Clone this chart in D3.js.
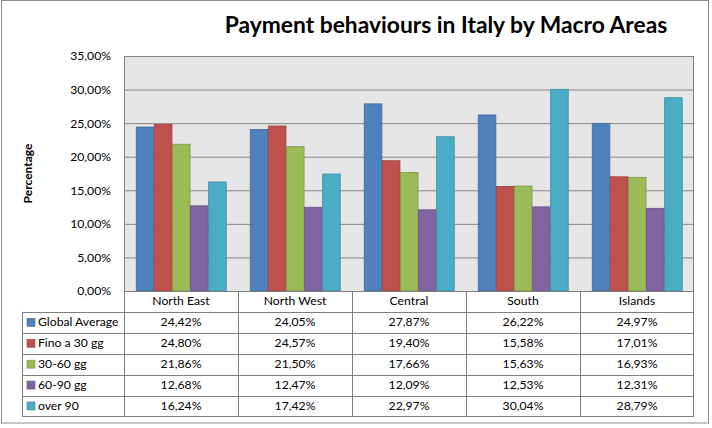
<!DOCTYPE html>
<html lang="it">
<head>
<meta charset="UTF-8">
<title>Payment behaviours in Italy by Macro Areas</title>
<style>
    body { margin: 0; background: #fff; }
    svg { display: block; font-family: Lato, "Open Sans", sans-serif; }
</style>
</head>
<body>
<div id="chart"></div>
<script src="https://d3js.org/d3.v7.min.js"></script>
<script>
    const areas = ["North East", "North West", "Central", "South", "Islands"];
    const seriesNames = ["Global Average", "Fino a 30 gg", "30-60 gg", "60-90 gg", "over 90"];
    const globalAverage = [24.42, 24.05, 27.87, 26.22, 24.97];
    const fino30 = [24.80, 24.57, 19.40, 15.58, 17.01];
    const gg3060 = [21.86, 21.50, 17.66, 15.63, 16.93];
    const gg6090 = [12.68, 12.47, 12.09, 12.53, 12.31];
    const over90 = [16.24, 17.42, 22.97, 30.04, 28.79];
    const yTicks = [0, 5, 10, 15, 20, 25, 30, 35];
    const colors = ["#4F81BD", "#C0504D", "#9BBB59", "#8064A2", "#4BACC6"];

    const values = [globalAverage, fino30, gg3060, gg6090, over90];

    const width = 712, height = 428;
    const plot = { left: 124, right: 694, top: 56, bottom: 291 };
    const rowH = 20.9;
    const legendLeft = 22;
    const fontSize = 12.2;

    const fmt = v => v.toFixed(2).replace(".", ",") + "%";

    const svg = d3.select("#chart").append("svg")
        .attr("width", width)
        .attr("height", height);

    // outer frame
    svg.append("rect")
        .attr("x", 1.5).attr("y", 0.5)
        .attr("width", 707).attr("height", 422.5)
        .attr("fill", "#fff")
        .attr("stroke", "#8c8c8c");

    svg.append("text")
        .attr("x", 446).attr("y", 33)
        .attr("text-anchor", "middle")
        .attr("font-size", 22.8)
        .attr("font-weight", "bold")
        .attr("fill", "#000")
        .text("Payment behaviours in Italy by Macro Areas");

    const x0 = d3.scaleBand()
        .domain(areas)
        .range([plot.left, plot.right]);

    const x1 = d3.scaleBand()
        .domain(seriesNames)
        .range([0, x0.bandwidth()])
        .paddingOuter(0.65)
        .paddingInner(0);

    const y = d3.scaleLinear()
        .domain([0, 35])
        .range([plot.bottom, plot.top]);

    // plot background
    svg.append("rect")
        .attr("x", plot.left).attr("y", plot.top)
        .attr("width", plot.right - plot.left)
        .attr("height", plot.bottom - plot.top)
        .attr("fill", "#e6e6e6");

    // gridlines
    svg.append("g")
        .attr("transform", `translate(${plot.left},0)`)
        .call(d3.axisLeft(y).tickValues(yTicks)
            .tickSize(-(plot.right - plot.left)).tickFormat(""))
        .call(g => g.select(".domain").remove())
        .call(g => g.selectAll(".tick line").attr("stroke", "#868686"));

    // y tick labels
    svg.append("g")
        .attr("transform", `translate(${plot.left},0)`)
        .call(d3.axisLeft(y).tickValues(yTicks).tickSize(0).tickPadding(13)
            .tickFormat(d => fmt(d)))
        .call(g => g.select(".domain").remove())
        .call(g => g.selectAll("text")
            .attr("font-family", "Lato, 'Open Sans', sans-serif")
            .attr("font-size", fontSize)
            .attr("fill", "#000"));

    svg.append("text")
        .attr("transform", `translate(28,${(plot.top + plot.bottom) / 2}) rotate(-90)`)
        .attr("text-anchor", "middle")
        .attr("dy", "0.35em")
        .attr("font-size", 12)
        .attr("font-weight", "bold")
        .text("Percentage");

    // bars
    const groups = svg.append("g").selectAll("g")
        .data(areas)
        .join("g")
        .attr("transform", d => `translate(${x0(d)},0)`);

    groups.selectAll("rect")
        .data((d, i) => seriesNames.map((s, j) => ({ s, j, v: values[j][i] })))
        .join("rect")
        .attr("x", d => x1(d.s) + 0.5)
        .attr("y", d => y(d.v))
        .attr("width", x1.bandwidth() - 0.5)
        .attr("height", d => y(0) - y(d.v))
        .attr("fill", d => colors[d.j])
        .attr("stroke", d => d3.color(colors[d.j]).darker(0.6))
        .attr("stroke-width", 0.8);

    // plot border
    svg.append("rect")
        .attr("x", plot.left + 0.5).attr("y", plot.top + 0.5)
        .attr("width", plot.right - plot.left - 1)
        .attr("height", plot.bottom - plot.top)
        .attr("fill", "none")
        .attr("stroke", "#868686");

    // data table
    const table = svg.append("g")
        .attr("stroke", "#7f7f7f")
        .attr("fill", "none");
    const tableBottom = plot.bottom + rowH * (seriesNames.length + 1);

    // vertical lines of the category columns
    areas.forEach(a => {
        table.append("line")
            .attr("x1", x0(a) + 0.5).attr("x2", x0(a) + 0.5)
            .attr("y1", plot.bottom).attr("y2", tableBottom);
    });
    table.append("line")
        .attr("x1", plot.right - 0.5).attr("x2", plot.right - 0.5)
        .attr("y1", plot.top).attr("y2", tableBottom);
    table.append("line")
        .attr("x1", legendLeft + 0.5).attr("x2", legendLeft + 0.5)
        .attr("y1", plot.bottom + rowH).attr("y2", tableBottom);

    // horizontal lines
    d3.range(seriesNames.length + 2).forEach(k => {
        const yy = Math.round(plot.bottom + rowH * k) + 0.5;
        table.append("line")
            .attr("x1", k === 0 ? plot.left : legendLeft)
            .attr("x2", plot.right)
            .attr("y1", yy).attr("y2", yy);
    });

    // category header
    svg.append("g").selectAll("text")
        .data(areas)
        .join("text")
        .attr("x", d => x0(d) + x0.bandwidth() / 2)
        .attr("y", plot.bottom + rowH / 2 + 4)
        .attr("text-anchor", "middle")
        .attr("font-size", fontSize)
        .text(d => d);

    // legend keys and values
    const rows = svg.append("g").selectAll("g")
        .data(seriesNames)
        .join("g")
        .attr("transform", (d, j) => `translate(0,${plot.bottom + rowH * (j + 1)})`);

    rows.append("rect")
        .attr("x", 27).attr("y", rowH / 2 - 4)
        .attr("width", 8).attr("height", 8)
        .attr("fill", (d, j) => colors[j])
        .attr("stroke", (d, j) => d3.color(colors[j]).darker(0.6))
        .attr("stroke-width", 0.6);

    rows.append("text")
        .attr("x", 38).attr("y", rowH / 2 + 4)
        .attr("font-size", fontSize)
        .text(d => d);

    rows.selectAll("text.val")
        .data((d, j) => areas.map((a, i) => ({ a, v: values[j][i] })))
        .join("text")
        .attr("class", "val")
        .attr("x", d => x0(d.a) + x0.bandwidth() / 2)
        .attr("y", rowH / 2 + 4)
        .attr("text-anchor", "middle")
        .attr("font-size", fontSize)
        .text(d => fmt(d.v));
</script>
</body>
</html>
